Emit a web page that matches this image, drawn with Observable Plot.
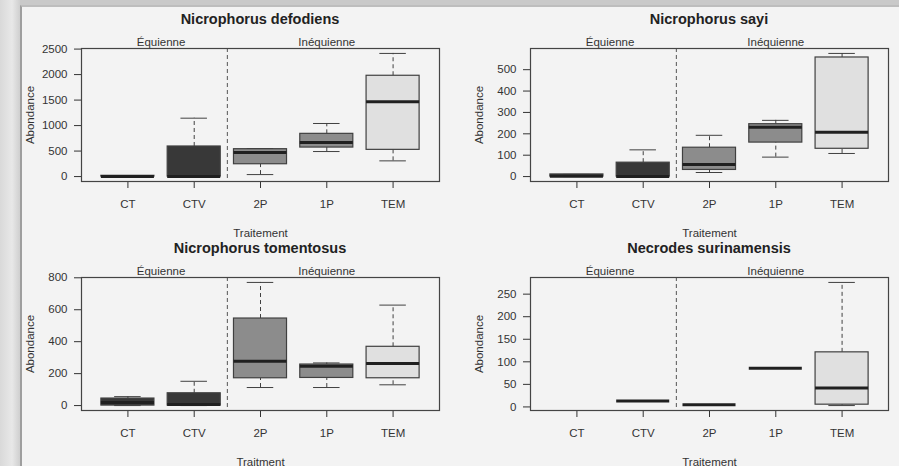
<!DOCTYPE html>
<html>
<head>
<meta charset="utf-8">
<script src="https://cdn.jsdelivr.net/npm/d3@7"></script>
<script src="https://cdn.jsdelivr.net/npm/@observablehq/plot@0.6"></script>
<style>
  html, body { margin: 0; padding: 0; }
  body { width: 899px; height: 466px; position: relative; overflow: hidden;
         background: linear-gradient(90deg, #d9d9d9 0px, #e8e8e8 12px, #cfcfcf 20px); font-family: "Liberation Sans", Arial, sans-serif; }
  #slide { position: absolute; left: 20px; top: 5px; width: 879px; height: 461px;
           background: #f3f3f3; border-left: 2px solid #9e9e9e; border-top: 2px solid #bdbdbd; box-sizing: border-box; }
  #topstrip { position: absolute; left: 20px; top: 0; width: 879px; height: 5px; background: #c9c9c9; }
  .panel { position: absolute; width: 450px; }
  .title { height: 30px; box-sizing: border-box; padding-top: 11px; margin-left: 81px; width: 358px;
           text-align: center; font: bold 14.5px/16px "Liberation Sans", Arial, sans-serif; color: #222; }
  .panel svg { display: block; overflow: visible; font-family: "Liberation Sans", Arial, sans-serif !important; font-size: 11.5px !important; }
  .panel svg text { font-size: 11.5px !important; font-family: "Liberation Sans", Arial, sans-serif !important; }
</style>
</head>
<body>
<div id="topstrip"></div>
<div id="slide"></div>
<div id="charts"></div>
<script>
// ---- data ----
const categories = ["CT", "CTV", "2P", "1P", "TEM"];
const groupLabels = ["Équienne", "Inéquienne"];
const groupCenters = [1.5, 4];
const groupDivider = [2.5];

// Nicrophorus defodiens
const defodiensMin = [0, 0, 39, 491, 308];
const defodiensQ1  = [0, 0, 242, 569, 524];
const defodiensMed = [0, 0, 471, 668, 1466];
const defodiensQ3  = [15, 590, 537, 838, 1977];
const defodiensMax = [15, 1145, 550, 1041, 2415];
const defodiensTicks = [0, 500, 1000, 1500, 2000, 2500];

// Nicrophorus sayi
const sayiMin = [0, 0, 19, 91, 108];
const sayiQ1  = [0, 0, 31, 159, 130];
const sayiMed = [2, 0, 57, 231, 207];
const sayiQ3  = [10, 65, 135, 245, 557];
const sayiMax = [10, 125, 193, 263, 576];
const sayiTicks = [0, 100, 200, 300, 400, 500];

// Nicrophorus tomentosus
const tomentosusMin = [0, 0, 113, 113, 130];
const tomentosusQ1  = [0, 0, 171, 173, 171];
const tomentosusMed = [19, 6, 278, 246, 263];
const tomentosusQ3  = [44, 77, 545, 257, 368];
const tomentosusMax = [56, 152, 771, 267, 629];
const tomentosusTicks = [0, 200, 400, 600, 800];

// Necrodes surinamensis (no CT data)
const surinamensisMin = [null, 13, 5, 86, 3];
const surinamensisQ1  = [null, 13, 5, 86, 5];
const surinamensisMed = [null, 13, 5, 86, 42];
const surinamensisQ3  = [null, 13, 5, 86, 121];
const surinamensisMax = [null, 13, 5, 86, 276];
const surinamensisTicks = [0, 50, 100, 150, 200, 250];

// ---- styles ----
const boxFills = ["#383838", "#383838", "#8c8c8c", "#8c8c8c", "#e0e0e0"];
const ink = "#404040";

function boxPanel(title, xLabel, mins, q1s, meds, q3s, maxs, yTicks, left, top) {
  const rows = categories.map((c, i) => ({
    cat: c, pos: i + 1, min: mins[i], q1: q1s[i], med: meds[i], q3: q3s[i], max: maxs[i], fill: boxFills[i]
  })).filter(d => d.med != null);
  const vals = rows.flatMap(d => [d.min, d.max]);
  const lo = d3.min(vals), hi = d3.max(vals), pad = (hi - lo) * 0.04;
  const groups = groupLabels.map((g, i) => ({label: g, x: groupCenters[i]}));

  const chart = Plot.plot({
    width: 450, height: 210,
    marginLeft: 81, marginRight: 11, marginTop: 18, marginBottom: 59,
    style: {background: "transparent", color: "#333"},
    color: {type: "identity"},
    x: {domain: [0.3, 5.7], ticks: [1, 2, 3, 4, 5], tickFormat: i => categories[i - 1],
        tickSize: 7, tickPadding: 11, label: xLabel, labelAnchor: "center", labelOffset: 55, labelArrow: false},
    y: {domain: [lo - pad, hi + pad], ticks: yTicks, tickFormat: d3.format("d"), tickSize: 7, tickPadding: 7,
        label: "Abondance", labelAnchor: "center", labelOffset: 56, labelArrow: false},
    marks: [
      Plot.ruleX(groupDivider, {x: d => d, stroke: "#555", strokeDasharray: "4,3"}),
      Plot.ruleX(rows, {x: "pos", y1: "q3", y2: "max", stroke: ink, strokeDasharray: "4,3"}),
      Plot.ruleX(rows, {x: "pos", y1: "min", y2: "q1", stroke: ink, strokeDasharray: "4,3"}),
      Plot.ruleY(rows, {y: "max", x1: d => d.pos - 0.2, x2: d => d.pos + 0.2, stroke: ink}),
      Plot.ruleY(rows, {y: "min", x1: d => d.pos - 0.2, x2: d => d.pos + 0.2, stroke: ink}),
      Plot.rect(rows, {x1: d => d.pos - 0.4, x2: d => d.pos + 0.4, y1: "q1", y2: "q3", fill: "fill", stroke: ink, strokeWidth: 1.2}),
      Plot.ruleY(rows, {y: "med", x1: d => d.pos - 0.4, x2: d => d.pos + 0.4, stroke: "#202020", strokeWidth: 3}),
      Plot.text(groups, {x: "x", text: "label", frameAnchor: "top", lineAnchor: "bottom", dy: -3, fill: "#333"}),
      Plot.frame({stroke: "#444", strokeWidth: 1.2})
    ]
  });

  const div = document.createElement("div");
  div.className = "panel";
  div.style.left = left + "px";
  div.style.top = top + "px";
  const t = document.createElement("div");
  t.className = "title";
  t.textContent = title;
  div.appendChild(t);
  div.appendChild(chart);
  document.getElementById("charts").appendChild(div);
}

boxPanel("Nicrophorus defodiens", "Traitement", defodiensMin, defodiensQ1, defodiensMed, defodiensQ3, defodiensMax, defodiensTicks, 0, 0);
boxPanel("Nicrophorus sayi", "Traitement", sayiMin, sayiQ1, sayiMed, sayiQ3, sayiMax, sayiTicks, 449, 0);
boxPanel("Nicrophorus tomentosus", "Traitment", tomentosusMin, tomentosusQ1, tomentosusMed, tomentosusQ3, tomentosusMax, tomentosusTicks, 0, 229);
boxPanel("Necrodes surinamensis", "Traitement", surinamensisMin, surinamensisQ1, surinamensisMed, surinamensisQ3, surinamensisMax, surinamensisTicks, 449, 229);
</script>
</body>
</html>
